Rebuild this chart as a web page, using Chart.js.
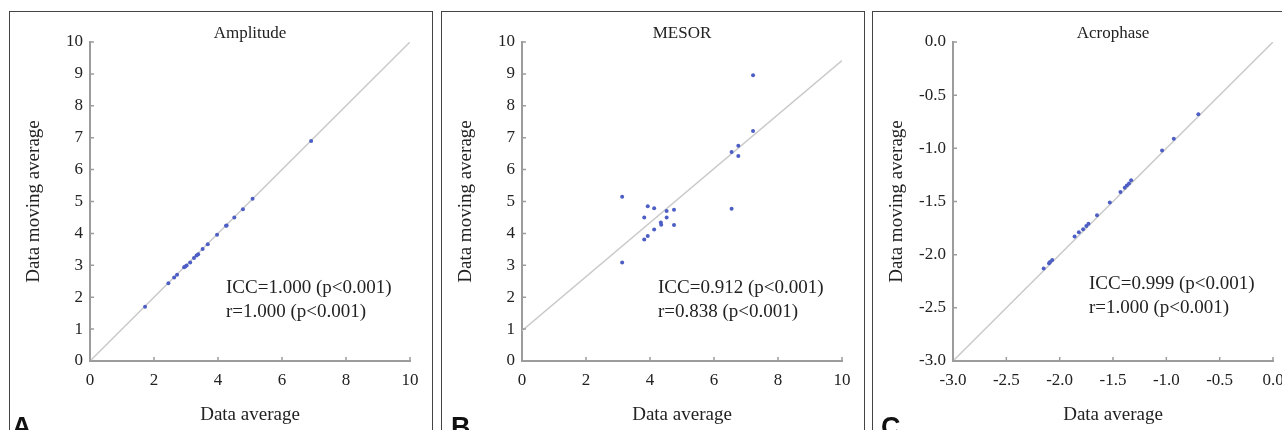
<!DOCTYPE html>
<html>
<head>
<meta charset="utf-8">
<script src="https://cdn.jsdelivr.net/npm/chart.js@4.4.1/dist/chart.umd.min.js"></script>
<style>
  body { margin: 0; background: #fff; width: 1282px; height: 430px; overflow: hidden; position: relative; }
  .panel { position: absolute; top: 11px; width: 422px; height: 430px; border: 1px solid #444; }
  .panel canvas { position: absolute; left: 0; top: 0; }
</style>
</head>
<body>
<div class="panel" style="left:9px"><canvas id="chartA" width="422" height="418"></canvas></div>
<div class="panel" style="left:441px"><canvas id="chartB" width="422" height="418"></canvas></div>
<div class="panel" style="left:872px"><canvas id="chartC" width="422" height="418"></canvas></div>
<script>
// Amplitude
const amplitudeX = [1.72, 2.45, 2.63, 2.72, 2.94, 2.98, 3.02, 3.13, 3.25, 3.33, 3.38, 3.52, 3.68, 3.97, 4.25, 4.27, 4.51, 4.78, 5.08, 6.91];
const amplitudeY = [1.70, 2.44, 2.62, 2.70, 2.94, 2.96, 2.99, 3.09, 3.23, 3.31, 3.35, 3.51, 3.66, 3.96, 4.24, 4.25, 4.50, 4.76, 5.09, 6.90];
const amplitudeLineX = [0, 10];
const amplitudeLineY = [0, 10];

// MESOR
const mesorX = [3.13, 3.13, 3.82, 3.82, 3.93, 3.93, 4.13, 4.13, 4.34, 4.35, 4.52, 4.52, 4.75, 4.75, 6.55, 6.55, 6.76, 6.76, 7.22, 7.22];
const mesorY = [5.15, 3.09, 4.50, 3.81, 4.85, 3.92, 4.79, 4.12, 4.34, 4.27, 4.70, 4.50, 4.74, 4.26, 4.77, 6.55, 6.75, 6.43, 7.21, 8.96];
const mesorLineX = [0, 10];
const mesorLineY = [0.95, 9.42];

// Acrophase
const acroX = [-2.15, -2.10, -2.09, -2.07, -1.86, -1.82, -1.78, -1.75, -1.73, -1.65, -1.53, -1.43, -1.39, -1.37, -1.35, -1.33, -1.04, -0.93, -0.70];
const acroY = [-2.13, -2.08, -2.07, -2.05, -1.83, -1.79, -1.76, -1.73, -1.71, -1.63, -1.51, -1.41, -1.37, -1.35, -1.33, -1.30, -1.02, -0.91, -0.68];
const acroLineX = [-3, 0];
const acroLineY = [-3, 0];

const tickText = '#222';
const axisGray = '#9c9c9c';
const serif = '"Liberation Serif", "Times New Roman", serif';

function pairs(xs, ys) {
  return xs.map((x, i) => ({ x: x, y: ys[i] }));
}

// titles, stats text, inward tick marks and panel letter
const decor = {
  id: 'decor',
  afterDraw(chart, args, opts) {
    const ctx = chart.ctx;
    const area = chart.chartArea;
    const sx = chart.scales.x, sy = chart.scales.y;
    ctx.save();
    ctx.strokeStyle = axisGray;
    ctx.lineWidth = 1.5;
    ctx.beginPath();
    sx.ticks.forEach(t => {
      const px = sx.getPixelForValue(t.value);
      ctx.moveTo(px, area.bottom);
      ctx.lineTo(px, area.bottom - 4);
    });
    sy.ticks.forEach(t => {
      const py = sy.getPixelForValue(t.value);
      ctx.moveTo(area.left, py);
      ctx.lineTo(area.left + 4, py);
    });
    ctx.stroke();

    ctx.fillStyle = tickText;
    ctx.textBaseline = 'alphabetic';
    ctx.textAlign = 'center';
    ctx.font = '17px ' + serif;
    ctx.fillText(opts.title, (area.left + area.right) / 2, 26);

    ctx.textAlign = 'left';
    ctx.font = '19px ' + serif;
    opts.stats.forEach((s, i) => {
      ctx.fillText(s, area.left + 136, opts.statsY + i * 23.5);
    });

    ctx.fillStyle = '#111';
    ctx.font = 'bold 27px "Liberation Sans", Arial, sans-serif';
    ctx.fillText(opts.letter, opts.letterX, 424);
    ctx.restore();
  }
};

function makePanel(id, pts, line, range, fmt, deco) {
  return new Chart(document.getElementById(id), {
    type: 'scatter',
    data: {
      datasets: [
        {
          data: line,
          showLine: true,
          borderColor: '#c9c9c9',
          borderWidth: 1.5,
          pointRadius: 0,
          order: 2,
        },
        {
          data: pts,
          pointRadius: 2,
          pointBackgroundColor: '#4d5ec4',
          pointBorderWidth: 0,
          order: 1,
        },
      ],
    },
    options: {
      responsive: false,
      animation: false,
      layout: { padding: { top: 30, right: 22, left: 0, bottom: 0 } },
      plugins: {
        legend: { display: false },
        tooltip: { enabled: false },
        decor: deco,
      },
      scales: {
        x: {
          type: 'linear',
          min: range.min,
          max: range.max,
          afterFit: s => { s.height = 69; },
          grid: { display: false, drawTicks: false },
          border: { color: axisGray, width: 2 },
          ticks: { stepSize: range.xStep, padding: 9, color: tickText, font: { family: serif, size: 17 }, callback: fmt, maxRotation: 0 },
          title: { display: true, text: 'Data average', color: tickText, font: { family: serif, size: 19 }, padding: { top: 0, bottom: 4 } },
        },
        y: {
          type: 'linear',
          min: range.min,
          max: range.max,
          afterFit: s => { s.width = 80; },
          grid: { display: false, drawTicks: false },
          border: { color: axisGray, width: 2 },
          ticks: { stepSize: range.yStep, padding: 7, color: tickText, font: { family: serif, size: 17 }, callback: fmt },
          title: { display: true, text: 'Data moving average', color: tickText, font: { family: serif, size: 19 }, padding: { top: 13, bottom: 0 } },
        },
      },
    },
    plugins: [decor],
  });
}

const plain = v => String(v);
const oneDec = v => v.toFixed(1);

makePanel('chartA', pairs(amplitudeX, amplitudeY), pairs(amplitudeLineX, amplitudeLineY),
  { min: 0, max: 10, xStep: 2, yStep: 1 }, plain,
  { title: 'Amplitude', stats: ['ICC=1.000 (p<0.001)', 'r=1.000 (p<0.001)'], statsY: 281, letter: 'A', letterX: 2 });

makePanel('chartB', pairs(mesorX, mesorY), pairs(mesorLineX, mesorLineY),
  { min: 0, max: 10, xStep: 2, yStep: 1 }, plain,
  { title: 'MESOR', stats: ['ICC=0.912 (p<0.001)', 'r=0.838 (p<0.001)'], statsY: 281, letter: 'B', letterX: 9 });

makePanel('chartC', pairs(acroX, acroY), pairs(acroLineX, acroLineY),
  { min: -3, max: 0, xStep: 0.5, yStep: 0.5 }, oneDec,
  { title: 'Acrophase', stats: ['ICC=0.999 (p<0.001)', 'r=1.000 (p<0.001)'], statsY: 277, letter: 'C', letterX: 8 });
</script>
</body>
</html>
